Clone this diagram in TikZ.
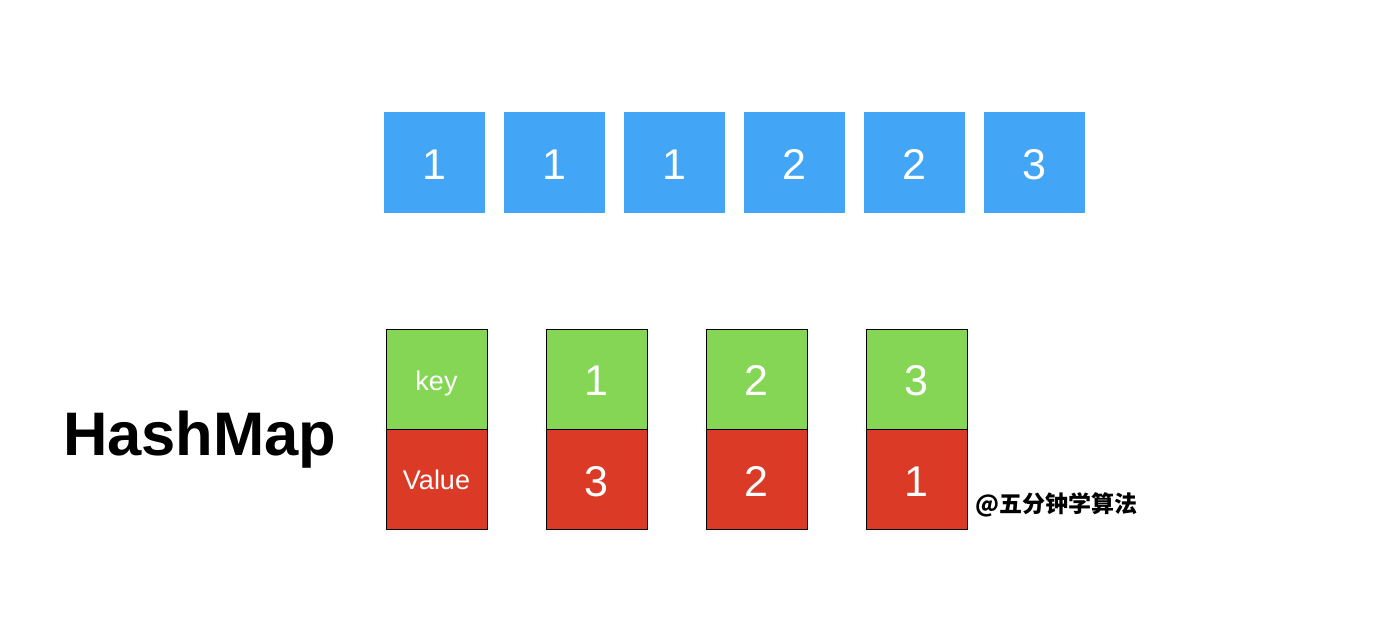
\documentclass[tikz,border=0pt]{standalone}
\usepackage{fontspec}
\setmainfont{Liberation Sans}
\newfontfamily\cjk{Noto Sans CJK SC}
\definecolor{cblue}{RGB}{66,165,245}
\definecolor{cgreen}{RGB}{133,214,85}
\definecolor{cred}{RGB}{219,59,38}
\tikzset{
  box/.style={minimum width=101pt,inner sep=0pt},
  arr/.style={box,fill=cblue,minimum height=101pt},
  keycell/.style={box,fill=cgreen,draw=black,line width=1pt,minimum height=100pt},
  valcell/.style={keycell,fill=cred},
  digit/.style={text=white,inner sep=0pt,text height=30.8pt,text depth=0pt,yshift=-1.5pt,font=\fontsize{43}{43}\selectfont},
  lbl/.style={text=white,inner sep=0pt,text height=19.3pt,text depth=0pt,font=\fontsize{27}{27}\selectfont}
}
\begin{document}
\begin{tikzpicture}[x=1pt,y=-1pt]
\useasboundingbox[fill=white] (0,0) rectangle (1376,644);
\foreach \i/\v in {1/1,2/1,3/1,4/2,5/2,6/3}{
  \node[arr] (a\i) at ({434.5+120*(\i-1)},162.5) {};
  \node[digit] (a\i t) at (a\i.center) {\v};
}
\node[keycell] (k0) at (436.5,379) {};
\node[lbl,yshift=-1.5pt] (k0t) at (k0.center) {key};
\node[valcell] (v0) at (436.5,479.5) {};
\node[lbl] (v0t) at (v0.center) {Value};
\foreach \i/\k/\v in {1/1/3,2/2/2,3/3/1}{
  \node[keycell] (k\i) at ({436.5+160*\i},379) {};
  \node[digit] (k\i t) at (k\i.center) {\k};
  \node[valcell] (v\i) at ({436.5+160*\i},479.5) {};
  \node[digit] (v\i t) at (v\i.center) {\v};
}
\node[anchor=base west,inner sep=0pt,font=\fontsize{61.5}{61.5}\selectfont\bfseries] (hm) at (63,455) {HashMap};
\node[anchor=west,inner sep=0pt,font=\cjk\bfseries\fontsize{23}{23}\selectfont] (wm) at (975,504.5) {@五分钟学算法};
\end{tikzpicture}
\end{document}
